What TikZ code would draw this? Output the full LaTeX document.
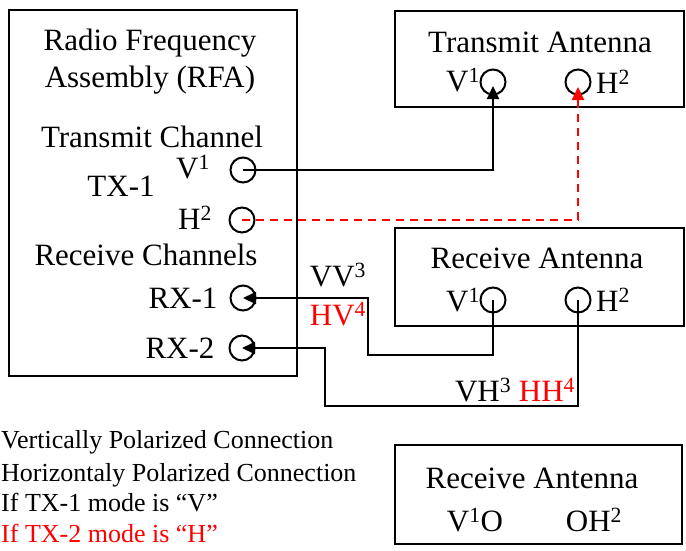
\documentclass[tikz,border=0pt]{standalone}
\usepackage{fontspec}
\setmainfont{Liberation Serif}
\usetikzlibrary{arrows.meta}
\tikzset{
  box/.style={draw,line width=2pt,inner sep=0pt},
  port/.style={draw,circle,line width=2pt,minimum size=25pt,inner sep=0pt},
  lbl/.style={inner sep=0pt,font=\fontsize{31}{35}\selectfont},
  legend/.style={inner sep=0pt,anchor=west,font=\fontsize{26}{30}\selectfont},
  wire/.style={line width=2pt},
  hwire/.style={wire,red,dash pattern=on 8pt off 6pt}
}
\begin{document}
\begin{tikzpicture}[x=1pt,y=-1pt,>={Triangle[width=12pt,length=13pt]}]
\useasboundingbox (0,0) rectangle (686,550);
% boxes
\node[box,minimum width=288pt,minimum height=366pt] (rfa) at (153,193) {};
\node[box,minimum width=289pt,minimum height=96pt] (tant) at (539.5,59) {};
\node[box,minimum width=289pt,minimum height=98pt] (rant) at (539.5,277) {};
\node[box,minimum width=287pt,minimum height=99pt] (rantb) at (538.5,494.5) {};
% RFA texts
\node[lbl] (rfa1) at (150,43) {Radio Frequency};
\node[lbl] (rfa2) at (150,80) {Assembly (RFA)};
\node[lbl] (txch) at (152,137) {Transmit Channel};
\node[lbl] (txvl) at (193,167) {V\textsuperscript{1}};
\node[lbl] (tx1) at (121,186) {TX-1};
\node[lbl] (txhl) at (195,218) {H\textsuperscript{2}};
\node[lbl] (rxch) at (146,255) {Receive Channels};
\node[lbl] (rx1l) at (183,298) {RX-1};
\node[lbl] (rx2l) at (180,348) {RX-2};
% antenna texts
\node[lbl] (tantl) at (540,42) {Transmit Antenna};
\node[lbl] (tavl) at (463,80) {V\textsuperscript{1}};
\node[lbl] (tahl) at (613,82) {H\textsuperscript{2}};
\node[lbl] (rantl) at (537,258) {Receive Antenna};
\node[lbl] (ravl) at (463,300) {V\textsuperscript{1}};
\node[lbl] (rahl) at (613,300) {H\textsuperscript{2}};
\node[lbl] (rantbl) at (532,478) {Receive Antenna};
\node[lbl] (rbv) at (475,520) {V\textsuperscript{1}O};
\node[lbl] (rbh) at (594,520) {OH\textsuperscript{2}};
% ports
\node[port] (txv) at (243,170) {};
\node[port] (txh) at (242,220) {};
\node[port] (rx1) at (243,298) {};
\node[port] (rx2) at (242,348) {};
\node[port] (tav) at (493,82) {};
\node[port] (tah) at (578,82) {};
\node[port] (rav) at (493,300) {};
\node[port] (rah) at (578,300) {};
% connections
\coordinate (kinkv) at (368,355);
\coordinate (kinkh) at (325,406);
\draw[wire,->] (txv.center) -| ([yshift=-4pt]tav.center);
\draw[hwire,->] (txh.center) -| ([yshift=-5pt]tah.center);
\draw[wire,->] (rav.center) |- (kinkv) |- (rx1.center);
\draw[wire,->] (rah.center) |- (kinkh) |- (rx2.center);
% connection labels
\node[lbl] (vv) at (338,275) {VV\textsuperscript{3}};
\node[lbl,red] (hv) at (338,314) {HV\textsuperscript{4}};
\node[lbl] (vhhh) at (515,390) {VH\textsuperscript{3} \textcolor{red}{HH\textsuperscript{4}}};
% legend
\node[legend] (legv) at (1,442) {Vertically Polarized Connection};
\node[legend] (legh) at (1,475) {Horizontaly Polarized Connection};
\node[legend] (legtx1) at (1,503) {If TX-1 mode is “V”};
\node[legend,red] (legtx2) at (1,533) {If TX-2 mode is “H”};
\end{tikzpicture}
\end{document}
